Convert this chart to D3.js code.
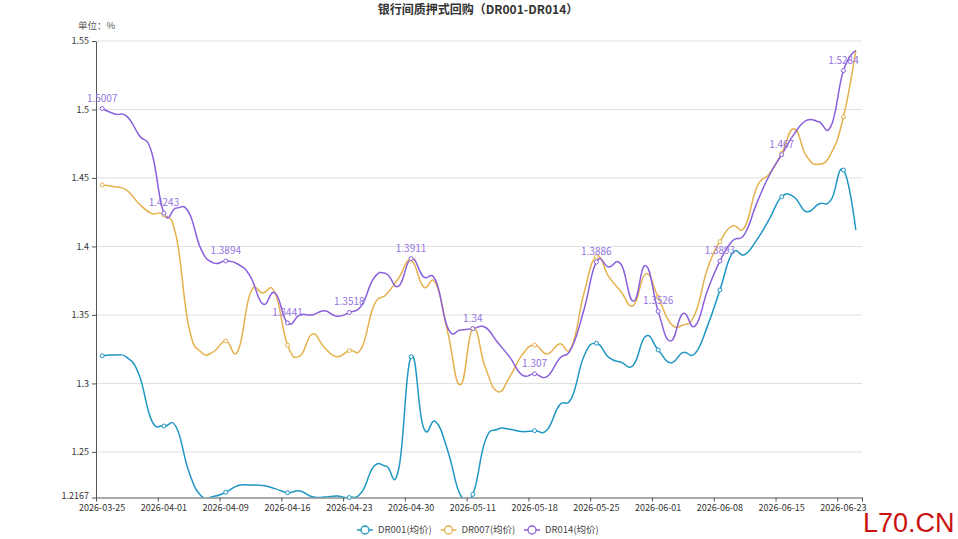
<!DOCTYPE html>
<html>
<head>
<meta charset="utf-8">
<script src="https://cdn.jsdelivr.net/npm/d3@7"></script>
<style>
  body { margin: 0; background: #fff; }
  text { font-family: "Noto Sans CJK SC", "Noto Sans", sans-serif; }
</style>
</head>
<body>
<div id="chart"></div>
<script>
// trading days on the category axis
const dates = [
  "2026-03-25", "2026-03-26", "2026-03-27", "2026-03-30", "2026-03-31",
  "2026-04-01", "2026-04-02", "2026-04-03", "2026-04-07", "2026-04-08",
  "2026-04-09", "2026-04-10", "2026-04-13", "2026-04-14", "2026-04-15",
  "2026-04-16", "2026-04-17", "2026-04-20", "2026-04-21", "2026-04-22",
  "2026-04-23", "2026-04-24", "2026-04-27", "2026-04-28", "2026-04-29",
  "2026-04-30", "2026-05-06", "2026-05-07", "2026-05-08", "2026-05-09",
  "2026-05-11", "2026-05-12", "2026-05-13", "2026-05-14", "2026-05-15",
  "2026-05-18", "2026-05-19", "2026-05-20", "2026-05-21", "2026-05-22",
  "2026-05-25", "2026-05-26", "2026-05-27", "2026-05-28", "2026-05-29",
  "2026-06-01", "2026-06-02", "2026-06-03", "2026-06-04", "2026-06-05",
  "2026-06-08", "2026-06-09", "2026-06-10", "2026-06-11", "2026-06-12",
  "2026-06-15", "2026-06-16", "2026-06-17", "2026-06-18", "2026-06-22",
  "2026-06-23", "2026-06-24"
];

const dr001 = [
  1.3202, 1.3207, 1.319, 1.306, 1.273, 1.2689, 1.268, 1.236, 1.218, 1.2175,
  1.2205, 1.2255, 1.2258, 1.2255, 1.2232, 1.2202, 1.2215, 1.2172, 1.217, 1.2178,
  1.2167, 1.2205, 1.2395, 1.2395, 1.2375, 1.3195, 1.268, 1.272, 1.25, 1.2185,
  1.219, 1.258, 1.2665, 1.2665, 1.2648, 1.2655, 1.266, 1.284, 1.2895, 1.32,
  1.3293, 1.319, 1.3155, 1.3135, 1.3345, 1.3244, 1.315, 1.3225, 1.322, 1.342,
  1.3682, 1.395, 1.394, 1.405, 1.42, 1.4363, 1.436, 1.4254, 1.431, 1.434,
  1.4558, 1.412
];

const dr007 = [
  1.4449, 1.4436, 1.441, 1.431, 1.424, 1.423, 1.407, 1.342, 1.323, 1.323,
  1.331, 1.324, 1.366, 1.366, 1.366, 1.328, 1.320, 1.336, 1.326, 1.3195,
  1.324, 1.326, 1.357, 1.365, 1.377, 1.390, 1.3706, 1.373, 1.336, 1.299,
  1.340, 1.312, 1.294, 1.305, 1.321, 1.328, 1.3215, 1.3288, 1.3268, 1.366,
  1.3925, 1.378, 1.367, 1.357, 1.380, 1.363, 1.344, 1.3426, 1.351, 1.384,
  1.4035, 1.415, 1.414, 1.4436, 1.453, 1.468, 1.486, 1.466, 1.460, 1.468,
  1.4947, 1.5434
];

const dr014 = [
  1.5007, 1.4967, 1.495, 1.481, 1.469, 1.4243, 1.428, 1.425, 1.398, 1.388,
  1.3894, 1.387, 1.378, 1.358, 1.366, 1.3441, 1.350, 1.350, 1.353, 1.349,
  1.3518, 1.357, 1.377, 1.380, 1.371, 1.3911, 1.378, 1.375, 1.340, 1.339,
  1.34, 1.341, 1.330, 1.319, 1.306, 1.307, 1.305, 1.318, 1.326, 1.354,
  1.3886, 1.385, 1.387, 1.360, 1.386, 1.3526, 1.331, 1.351, 1.342, 1.368,
  1.3893, 1.404, 1.409, 1.432, 1.452, 1.467, 1.482, 1.492, 1.491, 1.488,
  1.5284, 1.543
];

const yTicks = [1.2167, 1.25, 1.3, 1.35, 1.4, 1.45, 1.5, 1.55];
const seriesNames = ["DR001(均价)", "DR007(均价)", "DR014(均价)"];
const colors = ["#1f97c3", "#e5b14c", "#8a5fda"];
const labelEvery = 5;

const width = 958;
const height = 539;
const margin = { top: 41, right: 96, bottom: 41.5, left: 96 };

const svg = d3.select("#chart").append("svg")
  .attr("width", width)
  .attr("height", height);

svg.append("rect")
  .attr("width", width)
  .attr("height", height)
  .attr("fill", "#fff");

const x = d3.scaleBand()
  .domain(dates)
  .range([margin.left, width - margin.right]);

const cx = d => x(d) + x.bandwidth() / 2;

const y = d3.scaleLinear()
  .domain([yTicks[0], yTicks[yTicks.length - 1]])
  .range([height - margin.bottom, margin.top]);

// Title
svg.append("text")
  .attr("x", 478)
  .attr("y", 14)
  .attr("text-anchor", "middle")
  .style("font-size", "12px")
  .style("font-weight", "bold")
  .attr("fill", "#333")
  .text("银行间质押式回购（DR001-DR014）");

// unit
svg.append("text")
  .attr("x", 78)
  .attr("y", 29)
  .style("font-size", "9.5px")
  .attr("fill", "#555")
  .text("单位：%");

// grid lines
svg.append("g")
  .selectAll("line")
  .data(yTicks.slice(1))
  .join("line")
  .attr("x1", margin.left)
  .attr("x2", width - margin.right)
  .attr("y1", d => y(d))
  .attr("y2", d => y(d))
  .attr("stroke", "#e0e0e0")
  .attr("stroke-width", 1);

// Y axis
const yAxis = svg.append("g")
  .attr("transform", `translate(${margin.left},0)`)
  .call(d3.axisLeft(y).tickValues(yTicks).tickFormat(d => d).tickSize(4).tickSizeOuter(0).tickPadding(3));
yAxis.select(".domain").attr("stroke", "#555");
yAxis.selectAll(".tick line").attr("stroke", "#555");
yAxis.selectAll("text").style("font-size", "9px").attr("fill", "#333");
// lift the min label a little so it clears the first date
yAxis.selectAll("text").filter(d => d === yTicks[0]).attr("dy", "0.1em");

// X axis: ticks on band edges, labels on band centres
const labelDates = dates.filter((d, i) => i % labelEvery === 0);
const edge = d3.scaleLinear().domain([0, dates.length]).range(x.range());
const tickIdx = d3.range(0, dates.length, labelEvery).concat([dates.length]);

const xTicks = svg.append("g")
  .attr("transform", `translate(0,${height - margin.bottom})`)
  .call(d3.axisBottom(edge).tickValues(tickIdx).tickFormat("").tickSize(4).tickSizeOuter(0));
xTicks.select(".domain").attr("stroke", "#555");
xTicks.selectAll(".tick line").attr("stroke", "#555");

const xLabels = svg.append("g")
  .attr("transform", `translate(0,${height - margin.bottom})`)
  .call(d3.axisBottom(x).tickValues(labelDates).tickSize(0).tickPadding(7));
xLabels.select(".domain").remove();
xLabels.selectAll("text").style("font-size", "9px").attr("fill", "#333");

// clip to plot area
svg.append("clipPath")
  .attr("id", "plot-clip")
  .append("rect")
  .attr("x", margin.left)
  .attr("y", margin.top - 2)
  .attr("width", width - margin.left - margin.right)
  .attr("height", height - margin.top - margin.bottom + 2);

const series = [dr001, dr007, dr014];

const line = d3.line()
  .x((d, i) => cx(dates[i]))
  .y(d => y(d))
  .curve(d3.curveCardinal.tension(-0.4));

series.forEach((values, s) => {
  svg.append("path")
    .datum(values)
    .attr("clip-path", "url(#plot-clip)")
    .attr("fill", "none")
    .attr("stroke", colors[s])
    .attr("stroke-width", 1.5)
    .attr("d", line);
});

// symbols at labelled positions
series.forEach((values, s) => {
  svg.append("g")
    .selectAll("circle")
    .data(values.map((v, i) => ({ v, i })).filter(d => d.i % labelEvery === 0))
    .join("circle")
    .attr("cx", d => cx(dates[d.i]))
    .attr("cy", d => y(d.v))
    .attr("r", 2)
    .attr("fill", "#fff")
    .attr("stroke", colors[s])
    .attr("stroke-width", 1);
});

// DR014 value labels
svg.append("g")
  .selectAll("text")
  .data(dr014.map((v, i) => ({ v, i })).filter(d => d.i % labelEvery === 0))
  .join("text")
  .attr("x", d => cx(dates[d.i]))
  .attr("y", d => y(d.v) - 7)
  .attr("text-anchor", "middle")
  .style("font-size", "10px")
  .attr("fill", "#9474e0")
  .text(d => d.v);

// legend
const legend = svg.append("g")
  .attr("transform", "translate(365,530)");

seriesNames.forEach((name, s) => {
  const g = legend.append("g").attr("transform", `translate(${s * 83.5},0)`);
  g.append("line")
    .attr("x1", -8).attr("x2", 8)
    .attr("stroke", colors[s])
    .attr("stroke-width", 1.5);
  g.append("circle")
    .attr("r", 4)
    .attr("fill", "#fff")
    .attr("stroke", colors[s])
    .attr("stroke-width", 1.3);
  g.append("text")
    .attr("x", 13)
    .attr("dy", "0.35em")
    .style("font-size", "9.5px")
    .attr("fill", "#444")
    .text(name);
});

// watermark
svg.append("text")
  .attr("x", 863)
  .attr("y", 532)
  .style("font-family", "'Liberation Sans', Arial, sans-serif")
  .style("font-size", "27px")
  .attr("fill", "#cc1111")
  .text("L70.CN");
</script>
</body>
</html>
